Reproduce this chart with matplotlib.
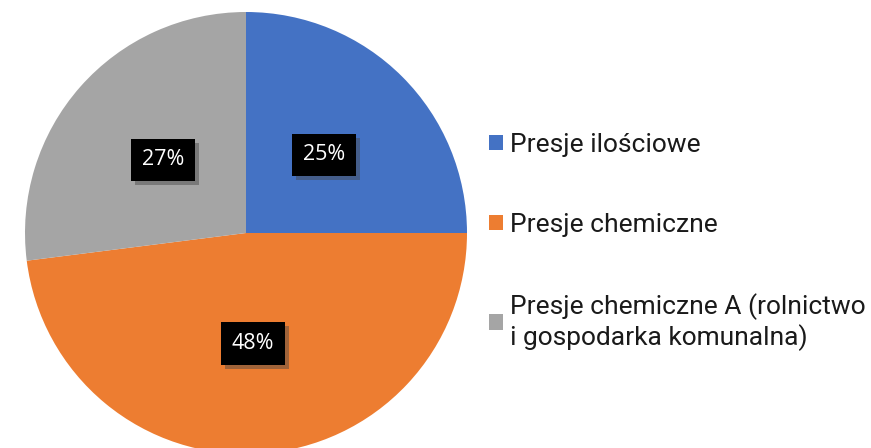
import matplotlib.pyplot as plt
from matplotlib.patches import Patch
import matplotlib.patheffects as pe

labels = ["Presje ilościowe", "Presje chemiczne",
          "Presje chemiczne A (rolnictwo\ni gospodarka komunalna)"]
values = [25, 48, 27]
colors = ["#4472C4", "#ED7D31", "#A5A5A5"]

fig = plt.figure(figsize=(8.71, 4.48), dpi=100)
# pie centre at (246, 233) px, radius ~221 px
ax = fig.add_axes([(246 - 221) / 871, (215 - 221) / 448, 442 / 871, 442 / 448])
ax.set_aspect("equal")

wedges, texts, autotexts = ax.pie(values, colors=colors, startangle=90, counterclock=False,
                                  autopct="%1.0f%%", pctdistance=0.5, radius=1,
                                  wedgeprops=dict(linewidth=0),
                                  textprops=dict(color="white", fontsize=15.5, family="Open Sans"))
ax.set_xlim(-1, 1)
ax.set_ylim(-1, 1)

for t in autotexts:
    t.set_bbox(dict(boxstyle="square,pad=0.5", facecolor="black", edgecolor="none"))
    t.get_bbox_patch().set_path_effects([
        pe.SimplePatchShadow(offset=(3, -3), shadow_rgbFace="#444444", alpha=0.45),
        pe.Normal()])

handles = [Patch(facecolor=c, edgecolor="none") for c in colors]
leg = fig.legend(handles, labels, loc="upper left", bbox_to_anchor=(489 / 871, 1 - 133 / 448),
                 frameon=False, prop=dict(family="Roboto", size=19),
                 borderpad=0, borderaxespad=0,
                 handlelength=0.52, handleheight=0.52, handletextpad=0.27, labelspacing=2.12)
for t in leg.get_texts():
    t.set_color("#1a1a1a")

fig.savefig("out.png", dpi=100)
